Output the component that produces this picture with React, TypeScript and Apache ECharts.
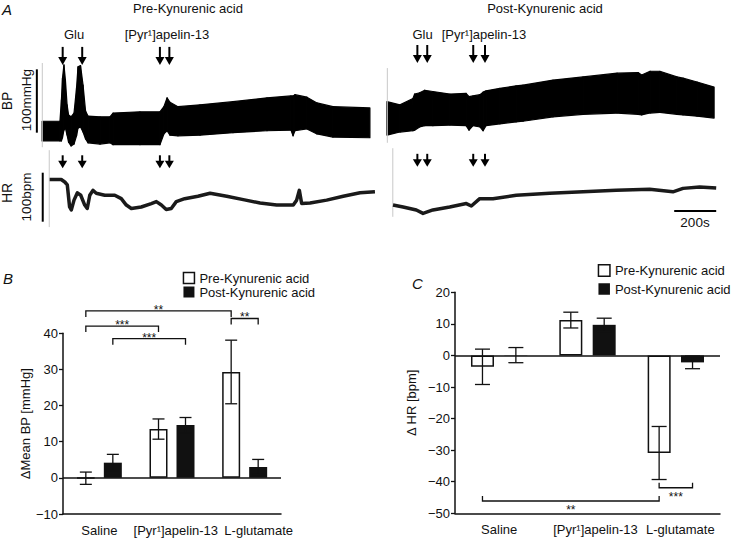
import React, { useEffect, useRef } from "react";
import * as echarts from "echarts";

const FONT = '"Liberation Sans", Arial, Helvetica, sans-serif';
const INK = "#111";

// ---------- Panel A : recorded traces (time in s, BP in mmHg, HR in bpm) ----------
const bpPreTime = [10, 95, 102, 107, 114, 121, 129, 136, 148, 162, 174, 181, 193, 205, 217, 229, 286, 333, 348, 476, 571, 590, 605, 619, 657, 762, 919, 1081, 1195, 1205, 1214, 1271, 1319, 1395, 1571];
const bpPreUpper = [88, 88, 122, 156, 177, 153, 114, 98, 95, 101, 141, 174, 176, 145, 104, 96, 95, 95, 101, 103, 103, 111, 125, 118, 111, 114, 119, 125, 128, 128, 130, 126, 117, 111, 109];
const bpPreLower = [57, 57, 57, 62, 74, 77, 66, 55, 49, 52, 65, 77, 79, 71, 60, 54, 52, 54, 51, 51, 51, 68, 73, 66, 65, 66, 70, 73, 74, 65, 73, 76, 68, 63, 62];

const bpPostTime = [1652, 1714, 1776, 1784, 1808, 1832, 1871, 1952, 2029, 2043, 2062, 2095, 2110, 2124, 2190, 2267, 2300, 2443, 2586, 2748, 2848, 2865, 2905, 2952, 3033, 3062, 3129, 3210];
const bpPostUpper = [119, 114, 124, 131, 133, 137, 135, 131, 132, 127, 128, 130, 134, 136, 140, 144, 145, 153, 158, 164, 165, 161, 167, 167, 158, 156, 150, 142];
const bpPostLower = [66, 71, 73, 74, 79, 81, 81, 82, 81, 74, 81, 79, 73, 81, 84, 87, 88, 95, 99, 101, 99, 98, 101, 102, 99, 98, 96, 93];

const hrTracePreTime = [46, 101, 118, 130, 141, 149, 162, 178, 194, 213, 225, 237, 252, 268, 308, 356, 387, 411, 435, 482, 530, 554, 578, 601, 625, 649, 689, 752, 810, 889, 968, 1048, 1127, 1206, 1222, 1235, 1246, 1286, 1365, 1444, 1524, 1595];
const hrTracePre = [386, 386, 381, 375, 330, 324, 344, 359, 354, 334, 327, 354, 364, 358, 354, 354, 347, 334, 327, 330, 337, 341, 334, 325, 327, 341, 347, 352, 358, 352, 345, 338, 334, 334, 344, 364, 337, 338, 344, 352, 359, 361];
const hrTracePostTime = [1681, 1729, 1792, 1824, 1871, 1951, 2030, 2054, 2094, 2157, 2268, 2427, 2586, 2744, 2903, 3014, 3062, 3141, 3220];
const hrTracePost = [334, 330, 324, 317, 324, 330, 337, 332, 347, 347, 354, 358, 361, 364, 366, 361, 368, 371, 369];

const injectionTimes = [108, 201, 571, 616, 1797, 1844, 2063, 2119];
const bpArrowTip = [177, 177, 177, 177, 180, 180, 180, 180];
const hrArrowTip = [409, 409, 409, 409, 412, 412, 412, 412];

const bpScaleBar = [-15, 70, 170]; // time, from, to : 100 mmHg
const hrScaleBar = [13, 300, 400]; // time, from, to : 100 bpm
const timeScaleBar = [3020, 3220, 322]; // from, to, level : 200 s
const bpTraceStarts = [[11, 47, 180], [1654, 54, 172]];
const hrTraceStarts = [[44, 289, 446], [1680, 310, 450]];

// ---------- Panels B and C ----------
const categories = ["Saline", "[Pyr\u00b9]apelin-13", "L-glutamate"];
const seriesNames = ["Pre-Kynurenic acid", "Post-Kynurenic acid"];

const bpChangePre = [-0.1, 13.5, 29.3];
const bpChangePreErr = [1.7, 2.8, 8.8];
const bpChangePost = [4.2, 14.6, 3.0];
const bpChangePostErr = [2.3, 2.1, 2.1];

const hrChangePre = [-3.6, 11.2, -30.9];
const hrChangePreErr = [5.6, 2.5, 8.4];
const hrChangePost = [0.1, 9.7, -2.2];
const hrChangePostErr = [2.4, 2.1, 2.0];

// significance brackets: [category, side(-1 pre / +1 post)]
const bpSigStart = [[0, -1], [0, -1], [0, 1], [2, -1]];
const bpSigEnd = [[2, -1], [1, -1], [1, 1], [2, 1]];
const bpSigLevel = [46.2, 42.0, 38.5, 44.1];
const bpSigMark = ["**", "***", "***", "**"];

const hrSigStart = [[0, -1], [2, -1]];
const hrSigEnd = [[2, -1], [2, 1]];
const hrSigLevel = [-46.1, -41.9];
const hrSigMark = ["**", "***"];

const bpAxis = { min: -10, max: 40, interval: 10 };
const hrAxis = { min: -50, max: 20, interval: 10 };

function txt(text: string, x: number, y: number, o: any = {}) {
  return {
    type: "text",
    x,
    y,
    rotation: o.rot || 0,
    silent: true,
    style: {
      text,
      fill: INK,
      font: `${o.italic ? "italic " : ""}${o.size || 13}px ${FONT}`,
      align: o.align || "center",
      verticalAlign: "middle",
      textAlign: o.align || "center",
      textVerticalAlign: "middle",
    },
  };
}

function errorRender(offPx: number, cap: number) {
  return (params: any, api: any) => {
    const c = api.value(0);
    const v = api.value(1);
    const e = api.value(2);
    const side = api.value(3);
    const top = api.coord([c, v + e]);
    const bot = api.coord([c, v - e]);
    const x = top[0] + side * offPx;
    const st = { stroke: INK, lineWidth: 1.3 };
    return {
      type: "group",
      children: [
        { type: "line", shape: { x1: x, y1: top[1], x2: x, y2: bot[1] }, style: st },
        { type: "line", shape: { x1: x - cap / 2, y1: top[1], x2: x + cap / 2, y2: top[1] }, style: st },
        { type: "line", shape: { x1: x - cap / 2, y1: bot[1], x2: x + cap / 2, y2: bot[1] }, style: st },
      ],
    };
  };
}

function bracketRender(offPx: number, drop: number, textDy: number, marks: string[]) {
  return (params: any, api: any) => {
    const lvl = api.value(4);
    const p1 = api.coord([api.value(0), lvl]);
    const p2 = api.coord([api.value(2), lvl]);
    const x1 = p1[0] + api.value(1) * offPx;
    const x2 = p2[0] + api.value(3) * offPx;
    const y = p1[1];
    return {
      type: "group",
      children: [
        {
          type: "polyline",
          shape: { points: [[x1, y + drop], [x1, y], [x2, y], [x2, y + drop]] },
          style: { stroke: INK, lineWidth: 1.3, fill: "none" },
        },
        {
          type: "text",
          x: (x1 + x2) / 2,
          y: y + textDy,
          style: {
            text: marks[params.dataIndex],
            font: `12px ${FONT}`,
            fill: INK,
            align: "center",
            verticalAlign: "middle",
          },
        },
      ],
    };
  };
}

function arrowRender(len: number, hw: number, hh: number) {
  return (params: any, api: any) => {
    const p = api.coord([api.value(0), api.value(1)]);
    return {
      type: "group",
      children: [
        { type: "line", shape: { x1: p[0], y1: p[1] - len, x2: p[0], y2: p[1] - hh + 1 }, style: { stroke: "#000", lineWidth: 2 } },
        { type: "polygon", shape: { points: [[p[0] - hw, p[1] - hh], [p[0] + hw, p[1] - hh], [p[0], p[1]]] }, style: { fill: "#000" } },
      ],
    };
  };
}

function vLineRender(color: string, width: number) {
  return (params: any, api: any) => {
    const a = api.coord([api.value(0), api.value(1)]);
    const b = api.coord([api.value(0), api.value(2)]);
    return { type: "line", shape: { x1: a[0], y1: a[1], x2: b[0], y2: b[1] }, style: { stroke: color, lineWidth: width } };
  };
}

function hLineRender(color: string, width: number) {
  return (params: any, api: any) => {
    const a = api.coord([api.value(0), api.value(2)]);
    const b = api.coord([api.value(1), api.value(2)]);
    return { type: "line", shape: { x1: a[0], y1: a[1], x2: b[0], y2: b[1] }, style: { stroke: color, lineWidth: width } };
  };
}

// pressure band: one quadrilateral per interval between successive samples
function traceBand(times: number[], upper: number[], lower: number[]) {
  const data = times.slice(0, -1).map((t, i) => [t, upper[i], lower[i], times[i + 1], upper[i + 1], lower[i + 1]]);
  return {
    type: "custom",
    xAxisIndex: 0,
    yAxisIndex: 0,
    silent: true,
    renderItem: (params: any, api: any) => {
      const a = api.coord([api.value(0), api.value(1)]);
      const b = api.coord([api.value(3), api.value(4)]);
      const c = api.coord([api.value(3), api.value(5)]);
      const d = api.coord([api.value(0), api.value(2)]);
      return {
        type: "polygon",
        shape: { points: [a, b, c, d] },
        style: { fill: "#000", stroke: "#000", lineWidth: 1.2, lineJoin: "round" },
      };
    },
    data,
  };
}

function hrLine(times: number[], vals: number[]) {
  return {
    type: "line",
    xAxisIndex: 1,
    yAxisIndex: 1,
    symbol: "none",
    silent: true,
    data: times.map((t, i) => [t, vals[i]]),
    lineStyle: { color: "#1a1a1a", width: 3.5, join: "round" },
  };
}

const minusFmt = (v: number) => String(v).replace("-", "\u2212");

function catAxis(gridIndex: number, shifts: number[]) {
  const rich: any = {};
  shifts.forEach((s, i) => {
    rich["c" + i] = { fontSize: 13, color: INK, fontFamily: FONT, padding: [0, 0, 0, s * 2] };
  });
  return {
    type: "category",
    gridIndex,
    data: categories,
    axisLine: { onZero: false, lineStyle: { color: INK, width: 1.5 } },
    axisTick: { alignWithLabel: true, length: 4, lineStyle: { color: INK, width: 1.3 } },
    axisLabel: {
      margin: 10,
      interval: 0,
      formatter: (v: string, i: number) => `{c${i}|${v}}`,
      rich,
    },
  };
}

function valAxis(gridIndex: number, ax: any, name: string, nameGap: number) {
  return {
    type: "value",
    gridIndex,
    min: ax.min,
    max: ax.max,
    interval: ax.interval,
    name,
    nameLocation: "middle",
    nameRotate: 90,
    nameGap,
    nameTextStyle: { fontSize: 13, color: INK, fontFamily: FONT },
    splitLine: { show: false },
    axisLine: { show: true, lineStyle: { color: INK, width: 1.5 } },
    axisTick: { show: true, length: 4, lineStyle: { color: INK, width: 1.3 } },
    axisLabel: { fontSize: 13, color: INK, margin: 5, formatter: minusFmt },
  };
}

const zeroLine = {
  silent: true,
  symbol: ["none", "none"],
  label: { show: false },
  lineStyle: { color: INK, width: 1.5, type: "solid" },
  emphasis: { disabled: true },
  data: [{ yAxis: 0 }],
};

function barPair(axisIdx: number, pre: number[], post: number[], width: number, gap: string) {
  return [
    {
      type: "bar",
      name: seriesNames[0],
      xAxisIndex: axisIdx,
      yAxisIndex: axisIdx,
      data: pre,
      barWidth: width,
      barGap: gap,
      silent: true,
      itemStyle: { color: "#fff", borderColor: INK, borderWidth: 1.5 },
      markLine: zeroLine,
    },
    {
      type: "bar",
      name: seriesNames[1],
      xAxisIndex: axisIdx,
      yAxisIndex: axisIdx,
      data: post,
      barWidth: width,
      barGap: gap,
      silent: true,
      itemStyle: { color: INK },
    },
  ];
}

function errSeries(axisIdx: number, pre: number[], preErr: number[], post: number[], postErr: number[], off: number, cap: number) {
  const data: any[] = [];
  pre.forEach((v, i) => data.push([i, v, preErr[i], -1]));
  post.forEach((v, i) => data.push([i, v, postErr[i], 1]));
  return {
    type: "custom",
    xAxisIndex: axisIdx,
    yAxisIndex: axisIdx,
    silent: true,
    z: 5,
    renderItem: errorRender(off, cap),
    data,
  };
}

function sigSeries(axisIdx: number, start: number[][], end: number[][], level: number[], marks: string[], off: number, drop: number, dy: number) {
  return {
    type: "custom",
    xAxisIndex: axisIdx,
    yAxisIndex: axisIdx,
    silent: true,
    z: 5,
    renderItem: bracketRender(off, drop, dy, marks),
    data: level.map((y, i) => [start[i][0], start[i][1], end[i][0], end[i][1], y]),
  };
}

function legendFor(left: number, top: number, size: number, gap: number) {
  return {
    orient: "vertical",
    left,
    top,
    padding: 0,
    itemWidth: size,
    itemHeight: size,
    itemGap: gap,
    icon: "rect",
    selectedMode: false,
    textStyle: { fontSize: 13, color: INK, fontFamily: FONT, lineHeight: 12 },
    data: [
      { name: seriesNames[0], itemStyle: { color: "#fff", borderColor: INK, borderWidth: 1.5 } },
      { name: seriesNames[1], itemStyle: { color: INK } },
    ],
  };
}

export default function App() {
  const ref = useRef<HTMLDivElement>(null);
  useEffect(() => {
    document.body.style.margin = "0";
    const chart = echarts.init(ref.current!, null, { renderer: "svg" });
    const option: any = {
      animation: false,
      textStyle: { fontFamily: FONT },
      grid: [
        { left: 8.5, top: 25, width: 714, height: 126.667 },
        { left: 8.5, top: 148.2, width: 714, height: 73.5 },
        { left: 63, top: 333.3, width: 218, height: 180.7 },
        { left: 455, top: 292.3, width: 265, height: 221 },
      ],
      xAxis: [
        { type: "value", gridIndex: 0, min: -150, max: 3250, show: false },
        { type: "value", gridIndex: 1, min: -150, max: 3250, show: false },
        catAxis(2, [0, 3.8, 14]),
        catAxis(3, [0, 8, 4.5]),
      ],
      yAxis: [
        { type: "value", gridIndex: 0, min: 40, max: 240, show: false },
        { type: "value", gridIndex: 1, min: 300, max: 450, show: false },
        valAxis(2, bpAxis, "\u0394Mean BP [mmHg]", 30),
        valAxis(3, hrAxis, "\u0394 HR [bpm]", 37),
      ],
      legend: [legendFor(182.7, 271.5, 11, 1), legendFor(597.7, 264, 11.5, 5.5)],
      graphic: [
        txt("A", 2, 9, { italic: true, size: 15, align: "left" }),
        txt("Pre-Kynurenic acid", 188, 8),
        txt("Post-Kynurenic acid", 545, 8),
        txt("Glu", 74, 34),
        txt("[Pyr\u00b9]apelin-13", 167, 34),
        txt("Glu", 422.5, 34),
        txt("[Pyr\u00b9]apelin-13", 484, 34),
        txt("BP", 7, 101, { rot: Math.PI / 2, size: 14 }),
        txt("100mmHg", 26.5, 100, { rot: Math.PI / 2, size: 13.5 }),
        txt("HR", 7, 193, { rot: Math.PI / 2, size: 14 }),
        txt("100bpm", 26.5, 197, { rot: Math.PI / 2, size: 13.5 }),
        txt("200s", 695, 222, { size: 13.5 }),
        txt("B", 3, 278, { italic: true, size: 15, align: "left" }),
        txt("C", 412, 283, { italic: true, size: 15, align: "left" }),
      ],
      series: [
        traceBand(bpPreTime, bpPreUpper, bpPreLower),
        traceBand(bpPostTime, bpPostUpper, bpPostLower),
        hrLine(hrTracePreTime, hrTracePre),
        hrLine(hrTracePostTime, hrTracePost),
        {
          type: "custom", xAxisIndex: 0, yAxisIndex: 0, silent: true,
          renderItem: vLineRender("#c8c8c8", 1), data: bpTraceStarts,
        },
        {
          type: "custom", xAxisIndex: 1, yAxisIndex: 1, silent: true,
          renderItem: vLineRender("#c8c8c8", 1), data: hrTraceStarts,
        },
        {
          type: "custom", xAxisIndex: 0, yAxisIndex: 0, silent: true,
          renderItem: vLineRender("#000", 2), data: [bpScaleBar],
        },
        {
          type: "custom", xAxisIndex: 1, yAxisIndex: 1, silent: true,
          renderItem: vLineRender("#000", 2), data: [hrScaleBar],
        },
        {
          type: "custom", xAxisIndex: 1, yAxisIndex: 1, silent: true,
          renderItem: hLineRender("#000", 2), data: [timeScaleBar],
        },
        {
          type: "custom", xAxisIndex: 0, yAxisIndex: 0, silent: true,
          renderItem: arrowRender(18, 4.5, 8), data: injectionTimes.map((t, i) => [t, bpArrowTip[i]]),
        },
        {
          type: "custom", xAxisIndex: 1, yAxisIndex: 1, silent: true,
          renderItem: arrowRender(13, 4.5, 7.5), data: injectionTimes.map((t, i) => [t, hrArrowTip[i]]),
        },
        ...barPair(2, bpChangePre, bpChangePost, 18, "50%"),
        errSeries(2, bpChangePre, bpChangePreErr, bpChangePost, bpChangePostErr, 13.5, 12),
        sigSeries(2, bpSigStart, bpSigEnd, bpSigLevel, bpSigMark, 13.5, 6, -1),
        ...barPair(3, hrChangePre, hrChangePost, 23, "45%"),
        errSeries(3, hrChangePre, hrChangePreErr, hrChangePost, hrChangePostErr, 16.7, 15),
        sigSeries(3, hrSigStart, hrSigEnd, hrSigLevel, hrSigMark, 16.7, -5, 9),
      ],
    };
    chart.setOption(option);
    return () => chart.dispose();
  }, []);
  return <div ref={ref} style={{ position: "fixed", left: 0, top: 0, width: 733, height: 558, background: "#fff" }} />;
}
